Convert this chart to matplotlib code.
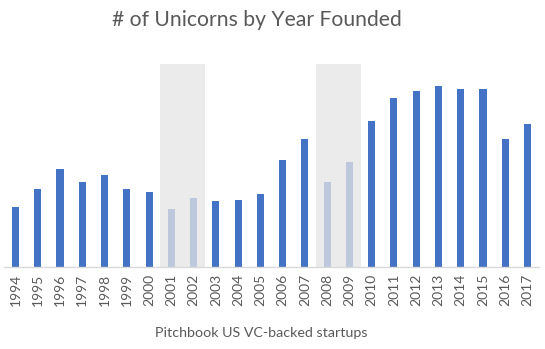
import matplotlib
matplotlib.use("Agg")
import matplotlib.pyplot as plt

years = [str(y) for y in range(1994, 2018)]
unicorns = [60, 78, 98, 85, 92, 78, 75, 58, 69, 66, 67, 73,
            107, 128, 85, 105, 146, 169, 176, 181, 178, 178, 128, 143]
downturn_years = ["2001", "2002", "2008", "2009"]
shade_spans = [("2001", "2002"), ("2008", "2009")]

BLUE = "#4472C4"
PALE = "#BDC8DC"
SHADE = "#EBEBEB"
TEXT = "#595959"

plt.rcParams["font.family"] = ["Lato", "DejaVu Sans"]

W, H = 545, 349
fig = plt.figure(figsize=(W / 100, H / 100), dpi=100)
ax = fig.add_axes([4.4 / W, (H - 267) / H, (538.6 - 4.4) / W, (267 - 64) / H])

x = list(range(len(years)))
ymax = 203

for a, b in shade_spans:
    ia, ib = years.index(a), years.index(b)
    ax.axvspan(ia - 0.5, ib + 0.5, color=SHADE, lw=0, zorder=0)

colors = [PALE if y in downturn_years else BLUE for y in years]
ax.bar(x, unicorns, width=0.32, color=colors, zorder=2)

ax.set_xlim(-0.5, len(years) - 0.5)
ax.set_ylim(0, ymax)
ax.set_yticks([])
ax.set_xticks(x)
ax.set_xticklabels(years, rotation=90, color=TEXT, fontsize=10)
ax.tick_params(axis="x", length=0, pad=5)
for side in ["top", "left", "right"]:
    ax.spines[side].set_visible(False)
ax.spines["bottom"].set_color("#D9D9D9")
ax.spines["bottom"].set_linewidth(1.0)

fig.text(257 / W, 1 - 20 / H, "# of Unicorns by Year Founded",
         ha="center", va="center", fontsize=15.2, color=TEXT)
fig.text(261 / W, 1 - 333 / H, "Pitchbook US VC-backed startups",
         ha="center", va="center", fontsize=10.3, color=TEXT)

fig.savefig("out.png", dpi=100, facecolor="white")
